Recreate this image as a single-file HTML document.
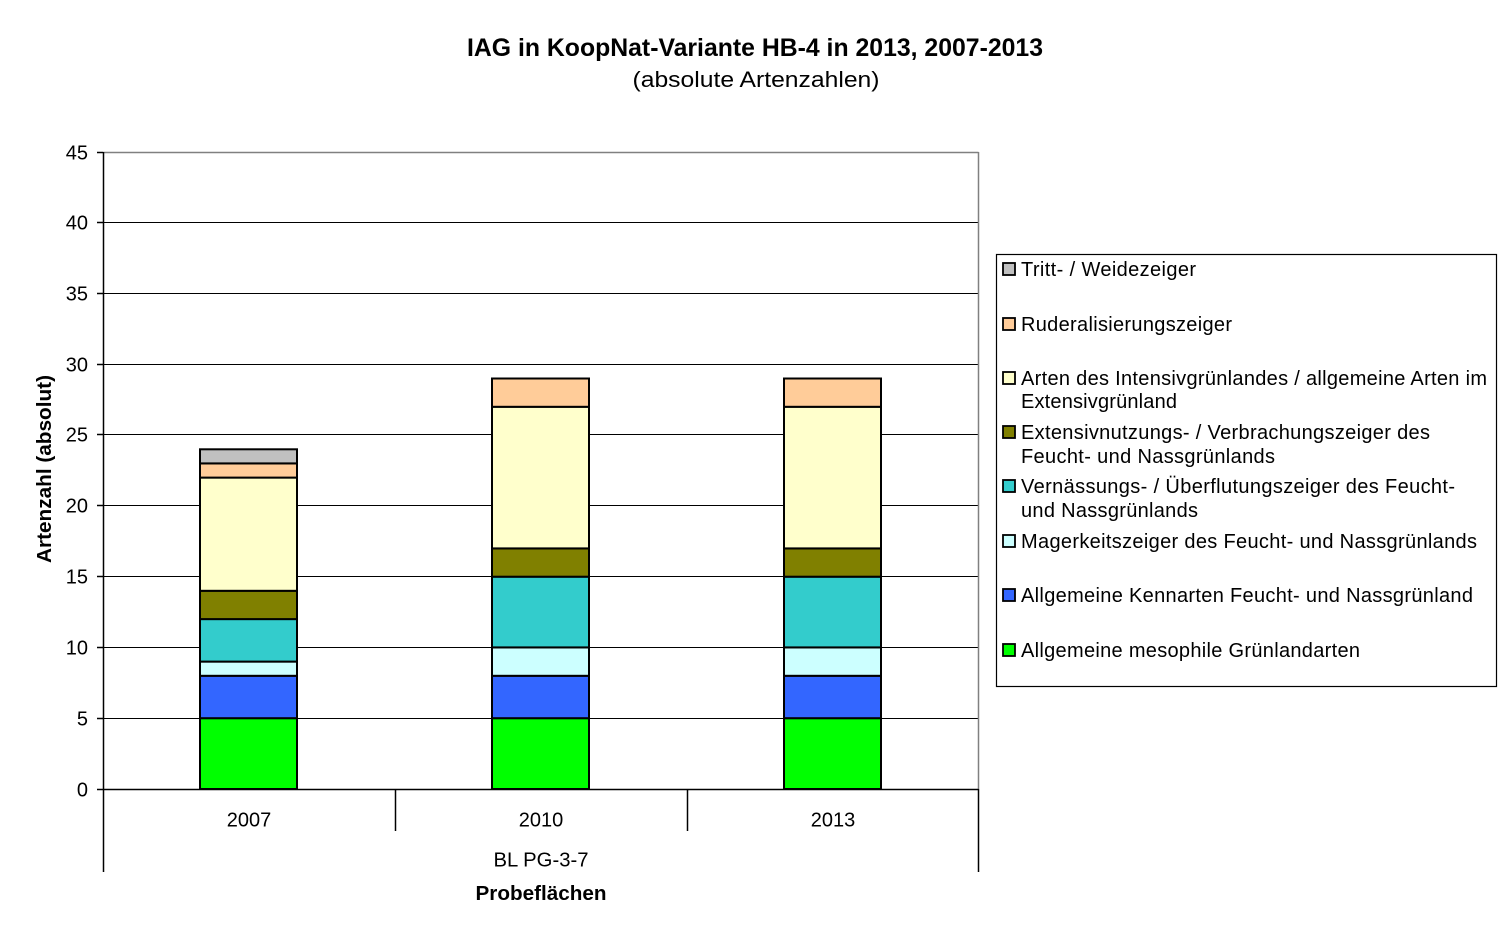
<!DOCTYPE html>
<html>
<head>
<meta charset="utf-8">
<style>
html,body{margin:0;padding:0;background:#fff;}
svg{display:block;}
text{font-family:"Liberation Sans",Arial,sans-serif;fill:#000;}
</style>
</head>
<body>
<svg width="1512" height="939" viewBox="0 0 1512 939" xmlns="http://www.w3.org/2000/svg">
<rect x="0" y="0" width="1512" height="939" fill="#fff"/>

<!-- Title -->
<text x="755" y="56" font-size="25" font-weight="bold" text-anchor="middle" textLength="576" lengthAdjust="spacingAndGlyphs">IAG in KoopNat-Variante HB-4 in 2013, 2007-2013</text>
<text x="756" y="87" font-size="22" text-anchor="middle" textLength="247" lengthAdjust="spacingAndGlyphs">(absolute Artenzahlen)</text>

<!-- Gridlines -->
<g stroke="#000" stroke-width="1">
<line x1="103" y1="718.5" x2="978" y2="718.5"/>
<line x1="103" y1="647.5" x2="978" y2="647.5"/>
<line x1="103" y1="576.5" x2="978" y2="576.5"/>
<line x1="103" y1="505.5" x2="978" y2="505.5"/>
<line x1="103" y1="434.5" x2="978" y2="434.5"/>
<line x1="103" y1="364.5" x2="978" y2="364.5"/>
<line x1="103" y1="293.5" x2="978" y2="293.5"/>
<line x1="103" y1="222.5" x2="978" y2="222.5"/>
</g>
<line x1="103" y1="152.5" x2="978.5" y2="152.5" stroke="#808080" stroke-width="1.5"/>
<line x1="978.5" y1="152" x2="978.5" y2="789" stroke="#808080" stroke-width="1.5"/>

<!-- Axes -->
<g stroke="#000" stroke-width="1.5">
<line x1="103.5" y1="152" x2="103.5" y2="872"/>
<line x1="97" y1="789.5" x2="978.5" y2="789.5"/>
<line x1="97" y1="152.5" x2="103" y2="152.5"/>
<line x1="97" y1="222.5" x2="103" y2="222.5"/>
<line x1="97" y1="293.5" x2="103" y2="293.5"/>
<line x1="97" y1="364.5" x2="103" y2="364.5"/>
<line x1="97" y1="434.5" x2="103" y2="434.5"/>
<line x1="97" y1="505.5" x2="103" y2="505.5"/>
<line x1="97" y1="576.5" x2="103" y2="576.5"/>
<line x1="97" y1="647.5" x2="103" y2="647.5"/>
<line x1="97" y1="718.5" x2="103" y2="718.5"/>
<line x1="395.5" y1="789" x2="395.5" y2="831"/>
<line x1="687.5" y1="789" x2="687.5" y2="831"/>
<line x1="978.5" y1="789" x2="978.5" y2="872"/>
</g>

<!-- Y tick labels -->
<g font-size="20" text-anchor="end">
<text x="88" y="159.5">45</text>
<text x="88" y="229.5">40</text>
<text x="88" y="300.5">35</text>
<text x="88" y="371.5">30</text>
<text x="88" y="441.5">25</text>
<text x="88" y="512.5">20</text>
<text x="88" y="583.5">15</text>
<text x="88" y="654.5">10</text>
<text x="88" y="725.5">5</text>
<text x="88" y="796.5">0</text>
</g>

<!-- Y axis title -->
<text transform="translate(51,469) rotate(-90)" font-size="20" font-weight="bold" text-anchor="middle" textLength="188" lengthAdjust="spacingAndGlyphs">Artenzahl (absolut)</text>

<!-- X labels -->
<g font-size="20" text-anchor="middle">
<text x="249" y="826.5">2007</text>
<text x="541" y="826.5">2010</text>
<text x="833" y="826.5">2013</text>
<text x="541" y="866.5" textLength="95" lengthAdjust="spacingAndGlyphs">BL PG-3-7</text>
</g>
<text x="541" y="900" font-size="20" font-weight="bold" text-anchor="middle" textLength="131" lengthAdjust="spacingAndGlyphs">Probeflächen</text>

<!-- Bars -->
<g stroke="#000" stroke-width="2">
<rect x="200" y="718.2" width="97" height="70.8" fill="#00FF00"/>
<rect x="200" y="675.8" width="97" height="42.4" fill="#3366FF"/>
<rect x="200" y="661.6" width="97" height="14.2" fill="#CCFFFF"/>
<rect x="200" y="619.1" width="97" height="42.5" fill="#33CCCC"/>
<rect x="200" y="590.8" width="97" height="28.3" fill="#808000"/>
<rect x="200" y="477.6" width="97" height="113.2" fill="#FFFFCC"/>
<rect x="200" y="463.4" width="97" height="14.2" fill="#FFCC99"/>
<rect x="200" y="449.3" width="97" height="14.1" fill="#C0C0C0"/>

<rect x="492" y="718.2" width="97" height="70.8" fill="#00FF00"/>
<rect x="492" y="675.8" width="97" height="42.4" fill="#3366FF"/>
<rect x="492" y="647.4" width="97" height="28.4" fill="#CCFFFF"/>
<rect x="492" y="576.7" width="97" height="70.7" fill="#33CCCC"/>
<rect x="492" y="548.4" width="97" height="28.3" fill="#808000"/>
<rect x="492" y="406.8" width="97" height="141.6" fill="#FFFFCC"/>
<rect x="492" y="378.5" width="97" height="28.3" fill="#FFCC99"/>

<rect x="784" y="718.2" width="97" height="70.8" fill="#00FF00"/>
<rect x="784" y="675.8" width="97" height="42.4" fill="#3366FF"/>
<rect x="784" y="647.4" width="97" height="28.4" fill="#CCFFFF"/>
<rect x="784" y="576.7" width="97" height="70.7" fill="#33CCCC"/>
<rect x="784" y="548.4" width="97" height="28.3" fill="#808000"/>
<rect x="784" y="406.8" width="97" height="141.6" fill="#FFFFCC"/>
<rect x="784" y="378.5" width="97" height="28.3" fill="#FFCC99"/>
</g>

<!-- Legend -->
<rect x="996.5" y="254.5" width="500" height="432" fill="#fff" stroke="#000" stroke-width="1.2"/>
<g stroke="#000" stroke-width="1.8">
<rect x="1003" y="263" width="12" height="12" fill="#C0C0C0"/>
<rect x="1003" y="318" width="12" height="12" fill="#FFCC99"/>
<rect x="1003" y="372" width="12" height="12" fill="#FFFFCC"/>
<rect x="1003" y="426" width="12" height="12" fill="#808000"/>
<rect x="1003" y="480" width="12" height="12" fill="#33CCCC"/>
<rect x="1003" y="535" width="12" height="12" fill="#CCFFFF"/>
<rect x="1003" y="589" width="12" height="12" fill="#3366FF"/>
<rect x="1003" y="644" width="12" height="12" fill="#00FF00"/>
</g>
<g font-size="20" lengthAdjust="spacingAndGlyphs">
<text x="1021" y="276" textLength="175">Tritt- / Weidezeiger</text>
<text x="1021" y="331" textLength="211">Ruderalisierungszeiger</text>
<text x="1021" y="385" textLength="466">Arten des Intensivgrünlandes / allgemeine Arten im</text>
<text x="1021" y="408" textLength="156">Extensivgrünland</text>
<text x="1021" y="439" textLength="409">Extensivnutzungs- / Verbrachungszeiger des</text>
<text x="1021" y="463" textLength="254">Feucht- und Nassgrünlands</text>
<text x="1021" y="493" textLength="434">Vernässungs- / Überflutungszeiger des Feucht-</text>
<text x="1021" y="517" textLength="177">und Nassgrünlands</text>
<text x="1021" y="548" textLength="456">Magerkeitszeiger des Feucht- und Nassgrünlands</text>
<text x="1021" y="602" textLength="452">Allgemeine Kennarten Feucht- und Nassgrünland</text>
<text x="1021" y="657" textLength="339">Allgemeine mesophile Grünlandarten</text>
</g>
</svg>
</body>
</html>
